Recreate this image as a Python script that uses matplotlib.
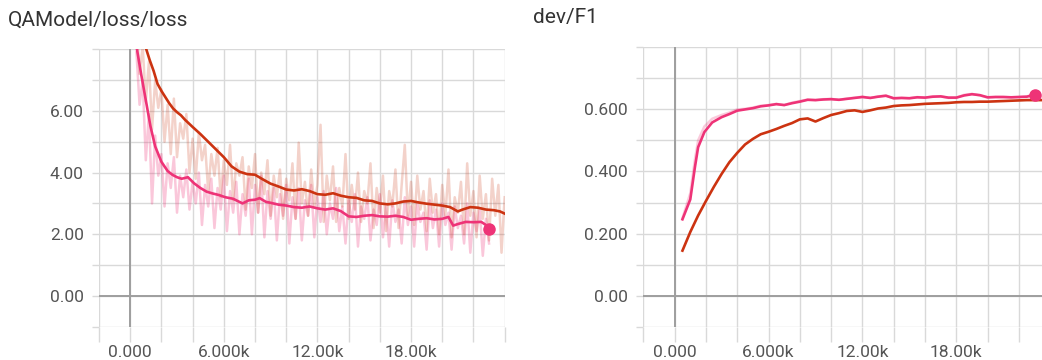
import numpy as np
import matplotlib
matplotlib.use("Agg")
import matplotlib.pyplot as plt

plt.rcParams['font.family'] = ['Roboto', 'DejaVu Sans']

# ---------------- data ----------------
TITLE_LOSS = "QAModel/loss/loss"
TITLE_F1 = "dev/F1"

X_TICK_LABELS = {0: "0.000", 6000: "6.000k", 12000: "12.00k", 18000: "18.00k"}
LOSS_TICK_LABELS = {0: "0.00", 2: "2.00", 4: "4.00", 6: "6.00"}
F1_TICK_LABELS = {0.0: "0.00", 0.2: "0.200", 0.4: "0.400", 0.6: "0.600"}

# loss, smoothed (pink run)
loss_pink_steps = [300, 400, 500, 700, 1000, 1300, 1600, 2000, 2400, 2700, 3000, 3300, 3700, 4100,
                   4500, 4900, 5300, 5700, 6100, 6600, 7200, 7600, 8000, 8300, 8700, 9000, 9500,
                   10000, 10500, 11000, 11500, 12000, 12500, 13000, 13500, 14000, 14500, 15000,
                   15500, 16000, 16500, 17000, 17500, 18000, 18500, 19000, 19500, 20000, 20400,
                   20700, 21000, 21500, 22000, 22500, 22800, 23000]
loss_pink_smooth = [8.7, 8.1, 7.8, 7.2, 6.35, 5.5, 4.85, 4.35, 4.05, 3.93, 3.85, 3.8, 3.85, 3.65,
                    3.5, 3.38, 3.32, 3.27, 3.2, 3.15, 3.0, 3.1, 3.12, 3.17, 3.05, 3.02, 2.96,
                    2.93, 2.88, 2.86, 2.9, 2.84, 2.8, 2.84, 2.75, 2.58, 2.56, 2.6,
                    2.62, 2.58, 2.57, 2.6, 2.56, 2.47, 2.5, 2.52, 2.48, 2.5, 2.56,
                    2.28, 2.33, 2.4, 2.39, 2.4, 2.3, 2.16]

# loss, smoothed (red run)
loss_red_steps = [500, 750, 1000, 1250, 1500, 1750, 2000, 2250, 2500, 2750, 3000, 3250, 3500, 4000,
                  4500, 5000, 5500, 6000, 6500, 7000, 7500, 8000, 8500, 9000, 9500, 10000, 10500,
                  11000, 11500, 12000, 12500, 13000, 13500, 14000, 14500, 15000, 15500, 16000,
                  16500, 17000, 17500, 18000, 18500, 19000, 19500, 20000, 20500, 21000, 21300,
                  21800, 22300, 22800, 23300, 23700, 24000]
loss_red_smooth = [9.6, 8.6, 8.05, 7.65, 7.3, 6.88, 6.65, 6.45, 6.25, 6.08, 5.96, 5.86, 5.72, 5.48,
                   5.25, 5.0, 4.75, 4.5, 4.2, 4.03, 3.95, 3.93, 3.78, 3.64, 3.55, 3.45, 3.42,
                   3.46, 3.4, 3.3, 3.28, 3.33, 3.25, 3.2, 3.18, 3.1, 3.08, 3.0,
                   2.97, 3.0, 3.06, 3.08, 3.03, 2.99, 2.96, 2.93, 2.88, 2.74, 2.8,
                   2.88, 2.86, 2.8, 2.78, 2.74, 2.67]

# loss, raw values (logged every 200 steps)
RAW_FIRST_STEP = 400
RAW_INTERVAL = 200
loss_red_raw = [8.9, 7.2, 8.1, 6.3, 7.6, 5.4, 7.0, 6.1, 6.7, 5.0, 6.2, 4.6, 6.4, 4.5, 5.6, 5.1,
                5.9, 4.0, 5.1, 3.8, 5.3, 4.4, 4.9, 3.4, 4.6, 3.9, 4.8, 3.2, 4.4, 3.6, 4.9, 3.1,
                4.3, 3.9, 4.5, 2.8, 4.2, 3.5, 4.6, 2.7, 4.0, 3.3, 4.4, 2.6, 3.9, 3.2, 4.1, 2.5,
                3.8, 3.1, 4.3, 2.5, 4.97, 3.0, 3.7, 2.6, 4.1, 2.9, 3.6, 5.55, 2.4, 3.9, 3.1, 4.2,
                2.4, 3.5, 2.9, 4.6, 2.5, 3.6, 2.8, 4.0, 2.4, 3.4, 3.0, 4.3, 2.2, 3.5, 2.7, 3.9,
                2.1, 3.4, 2.9, 4.1, 2.2, 3.6, 4.9, 2.6, 3.7, 2.3, 3.9, 2.8, 3.4, 2.1, 3.8, 2.7,
                3.3, 2.0, 3.6, 2.6, 4.1, 1.9, 3.2, 2.7, 3.7, 2.0, 4.3, 2.6, 3.4, 1.9, 3.9, 2.5,
                3.3, 1.8, 3.8, 2.6, 3.6, 1.4, 3.2]
loss_pink_raw = [7.9, 6.2, 7.0, 4.4, 5.9, 3.0, 5.2, 3.9, 4.6, 2.9, 4.3, 3.5, 4.5, 2.7, 3.9, 3.2,
                 4.1, 2.8, 3.7, 3.0, 4.0, 2.3, 3.6, 2.9, 3.8, 2.2, 3.5, 2.8, 3.9, 2.1, 3.4, 2.7,
                 3.7, 2.0, 3.3, 2.6, 3.8, 2.0, 3.6, 2.7, 3.9, 1.9, 3.4, 2.5, 3.5, 1.8, 3.3, 2.6,
                 3.6, 1.7, 3.2, 2.5, 3.5, 1.8, 3.1, 2.6, 3.6, 1.9, 3.2, 2.4, 3.4, 2.0, 3.0, 2.5,
                 3.5, 2.1, 2.9, 1.7, 3.1, 2.4, 3.3, 1.6, 2.9, 2.5, 3.2, 1.8, 2.8, 2.3, 3.3, 1.9,
                 2.9, 1.6, 3.1, 2.4, 2.8, 1.7, 3.2, 2.3, 2.9, 1.6, 3.0, 2.4, 2.7, 1.5, 3.1, 2.2,
                 2.8, 1.6, 3.0, 2.3, 2.7, 1.5, 2.9, 2.2, 2.6, 1.7, 3.0, 1.4, 2.7, 2.1, 2.8, 1.3,
                 2.5, 1.7]

# dev F1 (smoothed)
f1_pink_steps = [500, 1000, 1300, 1500, 1900, 2400, 3000, 3500, 4000, 4500, 5000, 5500, 6000, 6500,
                 7000, 7500, 8000, 8500, 9000, 9500, 10000, 10500, 11000, 11500, 12000, 12500,
                 13000, 13500, 14000, 14500, 15000, 15500, 16000, 16500, 17000, 17500, 18000,
                 18500, 19000, 19500, 20000, 20500, 21000, 21500, 22000, 22500, 23000]
f1_pink = [0.246, 0.31, 0.415, 0.478, 0.527, 0.558, 0.575, 0.585, 0.596, 0.600, 0.604, 0.610,
           0.613, 0.617, 0.614, 0.620, 0.625, 0.631, 0.630, 0.632, 0.633, 0.631, 0.634, 0.637,
           0.640, 0.637, 0.641, 0.644, 0.636, 0.637, 0.636, 0.639, 0.638, 0.641, 0.642, 0.638,
           0.638, 0.645, 0.649, 0.646, 0.639, 0.640, 0.640, 0.639, 0.640, 0.641, 0.647]
f1_pink_raw = [0.25, 0.33, 0.44, 0.50, 0.545, 0.57, 0.582, 0.59, 0.60, 0.602, 0.606, 0.612,
               0.614, 0.618, 0.614, 0.622, 0.627, 0.632, 0.630, 0.633, 0.634, 0.631, 0.635, 0.638,
               0.641, 0.637, 0.642, 0.645, 0.635, 0.637, 0.636, 0.640, 0.638, 0.642, 0.642, 0.637,
               0.638, 0.647, 0.650, 0.645, 0.638, 0.640, 0.640, 0.639, 0.640, 0.642, 0.649]
f1_red_steps = [500, 1000, 1500, 2000, 2500, 3000, 3500, 4000, 4500, 5000, 5500, 6000, 6500, 7000,
                7500, 8000, 8500, 9000, 9500, 10000, 10500, 11000, 11500, 12000, 12500, 13000,
                13500, 14000, 14500, 15000, 15500, 16000, 16500, 17000, 17500, 18000, 18500,
                19000, 19500, 20000, 20500, 21000, 21500, 22000, 22500, 23000, 23500, 24000]
f1_red = [0.145, 0.205, 0.258, 0.305, 0.35, 0.392, 0.43, 0.46, 0.487, 0.505, 0.52, 0.528, 0.537,
          0.547, 0.556, 0.568, 0.571, 0.561, 0.572, 0.582, 0.588, 0.595, 0.597, 0.592, 0.597,
          0.603, 0.606, 0.611, 0.613, 0.614, 0.616, 0.618, 0.619, 0.620, 0.621, 0.623, 0.624,
          0.624, 0.625, 0.625, 0.626, 0.627, 0.628, 0.629, 0.630, 0.630, 0.630, 0.629]

# ---------------- style ----------------
PINK = "#ee3377"
RED = "#cc3311"
GRID = "#d9d9d9"
ZERO = "#9e9e9e"
LABEL = "#555555"

fig = plt.figure(figsize=(10.42, 3.6), dpi=100)
ax1 = fig.add_axes([0.0950, 0.0925, 0.3893, 0.7706])
ax2 = fig.add_axes([0.6174, 0.0925, 0.3905, 0.7760])


def style(ax, ylim, yticks, ylabels):
    ax.set_xlim(-2000, 24000)
    ax.set_ylim(*ylim)
    xt = np.arange(-2000, 24001, 2000)
    ax.set_xticks(xt)
    ax.set_xticklabels([X_TICK_LABELS.get(int(v), "") for v in xt])
    ax.set_yticks(yticks)
    ax.set_yticklabels([ylabels.get(round(float(v), 2), "") for v in yticks])
    for s in ax.spines.values():
        s.set_visible(False)
    ax.grid(True, color=GRID, lw=1.0, zorder=0)
    ax.set_axisbelow(True)
    ax.tick_params(axis='x', length=11, width=1.0, color=GRID, labelcolor=LABEL,
                   labelsize=12.5, pad=2)
    ax.tick_params(axis='y', length=5, width=1.0, color=GRID, labelcolor=LABEL,
                   labelsize=12.5, pad=6)
    ax.axhline(0, color=ZERO, lw=1.4, zorder=1)
    ax.axvline(0, color=ZERO, lw=1.4, zorder=1)


style(ax1, (-1, 8), np.arange(-1, 9, 1), LOSS_TICK_LABELS)
style(ax2, (-0.1, 0.8), np.round(np.arange(-0.1, 0.81, 0.1), 2), F1_TICK_LABELS)

# loss panel
red_raw_steps = RAW_FIRST_STEP + RAW_INTERVAL * np.arange(len(loss_red_raw))
pink_raw_steps = RAW_FIRST_STEP + RAW_INTERVAL * np.arange(len(loss_pink_raw))
ax1.plot(pink_raw_steps, loss_pink_raw, color=PINK, alpha=0.27, lw=1.8, zorder=2)
ax1.plot(red_raw_steps, loss_red_raw, color=RED, alpha=0.22, lw=1.8, zorder=2)
ax1.plot(loss_red_steps, loss_red_smooth, color=RED, lw=1.9, zorder=3)
ax1.plot(loss_pink_steps, loss_pink_smooth, color=PINK, lw=1.9, zorder=4)
ax1.plot(loss_pink_steps[-1], loss_pink_smooth[-1], 'o', color=PINK, ms=8, zorder=5)

# F1 panel
ax2.plot(f1_pink_steps, f1_pink_raw, color=PINK, alpha=0.25, lw=1.8, zorder=2)
ax2.plot(f1_red_steps, f1_red, color=RED, lw=1.9, zorder=3)
ax2.plot(f1_pink_steps, f1_pink, color=PINK, lw=1.9, zorder=4)
ax2.plot(f1_pink_steps[-1], f1_pink[-1], 'o', color=PINK, ms=8, zorder=5, clip_on=False)

fig.text(8 / 1042, 1 - 20 / 360, TITLE_LOSS, fontsize=15, color="#333333", va="center", ha="left")
fig.text(533 / 1042, 1 - 18 / 360, TITLE_F1, fontsize=15, color="#333333", va="center", ha="left")

fig.savefig("out.png", dpi=100, facecolor="white")
